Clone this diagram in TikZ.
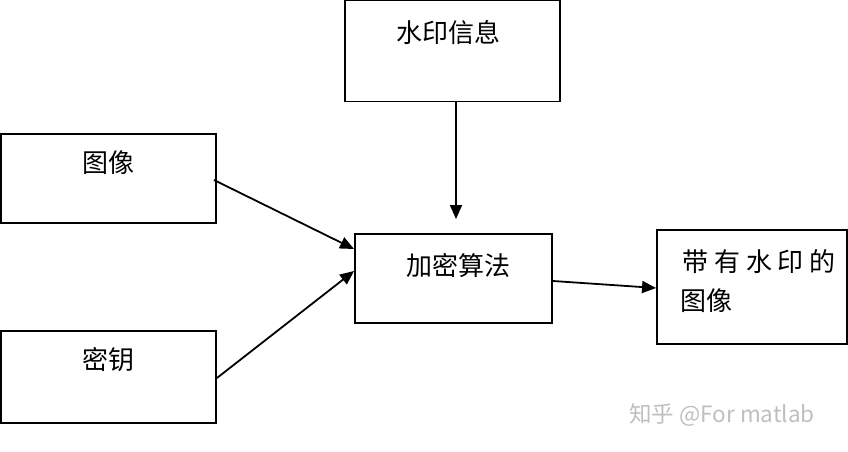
\documentclass[tikz,border=0pt]{standalone}
\usepackage{fontspec}
\newfontfamily\cjk{Noto Sans CJK SC}
\usetikzlibrary{positioning,arrows.meta}

\begin{document}
\begin{tikzpicture}[x=1pt, y=1pt,
    box/.style={draw, line width=1.9pt, inner sep=0pt},
    txt/.style={font=\cjk\fontsize{26}{30}\selectfont, inner sep=0pt},
    arr/.style={-{Triangle[length=14pt, width=12pt]}, line width=1.8pt}]

    \useasboundingbox (0,0) rectangle (848,452);

    \node[box, minimum width=215pt, minimum height=101pt] (wm) at (452.5,401) {};
    \node[box, minimum width=215pt, minimum height=89pt] (img) at (108.5,273.5) {};
    \node[box, minimum width=215pt, minimum height=92pt] (key) at (108.5,75) {};
    \node[box, minimum width=197pt, minimum height=89pt] (enc) at (453.5,173.5) {};
    \node[box, minimum width=190pt, minimum height=114pt] (out) at (752,165) {};

    \node[txt] (wmtxt) at (448,419) {水印信息};
    \node[txt] (imgtxt) at (108,289) {图像};
    \node[txt] (keytxt) at (108,92) {密钥};
    \node[txt] (enctxt) at (458,186) {加密算法};
    \node[txt] (outtxt) at (759,190) {带 有 水 印 的};
    \node[txt] (outtxt2) at (706,151) {图像};

    \draw[arr] ([xshift=3.5pt]wm.south) -- ([xshift=2.5pt, yshift=14pt]enc.north);
    \draw[arr] ([xshift=-3pt, yshift=-1.5pt]img.east) -- ([yshift=29.5pt]enc.west);
    \draw[arr] ([yshift=-1pt]key.east) -- ([yshift=7.5pt]enc.west);
    \draw[arr] ([yshift=-2.5pt]enc.east) -- ([yshift=-1pt]out.west);

    \node[font=\cjk\fontsize{22.5}{26}\selectfont, text=black!25, inner sep=0pt] (mark) at (722,37) {知乎 @For matlab};
\end{tikzpicture}
\end{document}
